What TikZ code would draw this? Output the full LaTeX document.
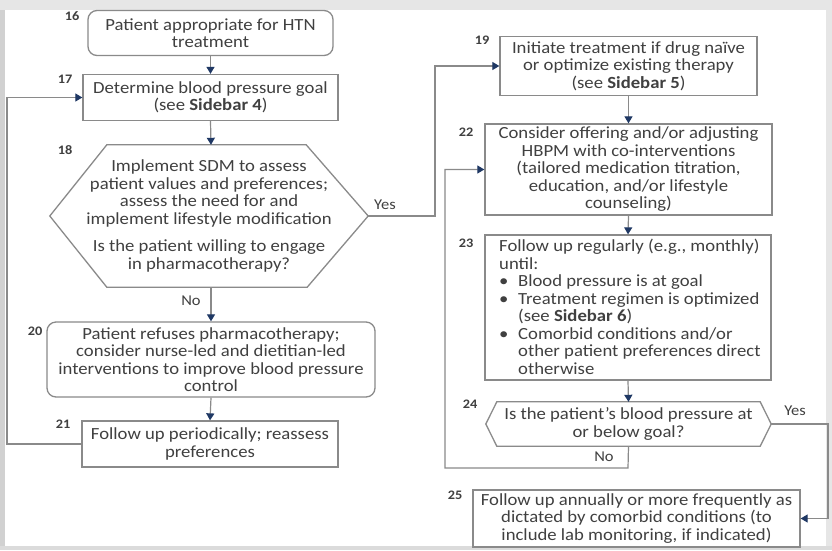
\documentclass[tikz,border=0pt]{standalone}
\usepackage{fontspec}
\setmainfont{Carlito}[FakeStretch=1.1]
\usetikzlibrary{arrows.meta,calc}
\definecolor{txt}{HTML}{404040}
\definecolor{boxc}{HTML}{8A8A8A}
\definecolor{navy}{HTML}{1F3864}
\definecolor{bgouter}{HTML}{E6E6E6}
\tikzset{
  every node/.style={text=txt, font=\fontsize{17}{17.5}\selectfont},
  boxn/.style={draw=boxc, line width=1.3pt, align=center, inner sep=0pt},
  rboxn/.style={boxn, rounded corners=9pt},
  hexq/.style={align=center, inner sep=0pt},
  hexline/.style={draw=boxc, line width=1.3pt, line join=miter},
  numlab/.style={font=\fontsize{13}{14}\selectfont\bfseries, text=txt},
  conn/.style={draw=boxc, line width=1.2pt, -{Triangle[color=navy,length=7pt,width=8pt]}},
  yn/.style={font=\fontsize{15}{16}\selectfont}
}
\begin{document}
\begin{tikzpicture}[x=1pt,y=-1pt]
\useasboundingbox (0,0) rectangle (832,550);
\fill[bgouter] (0,0) rectangle (832,550);
\fill[white] (5,10) rectangle (826,546);
\fill[black!18] (0,10) rectangle (5,550);
\fill[black!14] (0,546) rectangle (832,550);

% left column
\node[rboxn, minimum width=245pt, minimum height=45pt] (b16) at (210.5,33) {Patient appropriate for HTN\\treatment};
\node[boxn, minimum width=255pt, minimum height=46pt] (b17) at (210.5,97.5) {Determine blood pressure goal\\(see \textbf{Sidebar 4})};
\node[hexq, minimum width=318pt, minimum height=142pt] (q18) at (209,216) {Implement SDM to assess\\patient values and preferences;\\assess the need for and\\implement lifestyle modification\\[10pt]Is the patient willing to engage\\in pharmacotherapy?};
\draw[hexline] ($(q18.north west)+(57,0)$) -- ($(q18.north east)+(-62,0)$) -- (q18.east) -- ($(q18.south east)+(-61,0)$) -- ($(q18.south west)+(57,0)$) -- (q18.west) -- cycle;
\coordinate (q18n) at ($(q18.north)+(2,0)$);
\coordinate (q18s) at ($(q18.south)+(2,0)$);
\node[rboxn, minimum width=328pt, minimum height=75pt] (b20) at (211,359.5) {Patient refuses pharmacotherapy;\\consider nurse-led and dietitian-led\\interventions to improve blood pressure\\control};
\node[boxn, minimum width=256pt, minimum height=46pt] (b21) at (210,444) {Follow up periodically; reassess\\preferences};

% right column
\node[boxn, minimum width=257pt, minimum height=59pt] (b19) at (628.5,66) {Initiate treatment if drug naïve\\or optimize existing therapy\\(see \textbf{Sidebar 5})};
\node[boxn, minimum width=287pt, minimum height=91pt] (b22) at (628.5,169.5) {Consider offering and/or adjusting\\HBPM with co-interventions\\(tailored medication titration,\\education, and/or lifestyle\\counseling)};
\node[boxn, minimum width=286pt, minimum height=145pt] (b23) at (628,307.5) {};
\node[anchor=north west, align=left, inner sep=0pt] (t23) at (499,239) {Follow up regularly (e.g., monthly)\\until:\\\makebox[19pt][l]{•}Blood pressure is at goal\\\makebox[19pt][l]{•}Treatment regimen is optimized\\\hspace*{19pt}(see \textbf{Sidebar 6})\\\makebox[19pt][l]{•}Comorbid conditions and/or\\\hspace*{19pt}other patient preferences direct\\\hspace*{19pt}otherwise};
\node[hexq, minimum width=285pt, minimum height=44pt] (q24) at (628.5,424) {Is the patient’s blood pressure at\\or below goal?};
\draw[hexline] ($(q24.north west)+(11,0)$) -- ($(q24.north east)+(-11,0)$) -- (q24.east) -- ($(q24.south east)+(-11,0)$) -- ($(q24.south west)+(11,0)$) -- (q24.west) -- cycle;
\node[boxn, minimum width=327pt, minimum height=57pt] (b25) at (636.5,518.5) {Follow up annually or more frequently as\\dictated by comorbid conditions (to\\include lab monitoring, if indicated)};

% number labels
\node[numlab] (n16) at (72,16) {16};
\node[numlab] (n17) at (65,79) {17};
\node[numlab] (n18) at (65,150) {18};
\node[numlab] (n20) at (35,331) {20};
\node[numlab] (n21) at (63,424) {21};
\node[numlab] (n19) at (482,40) {19};
\node[numlab] (n22) at (466,132) {22};
\node[numlab] (n23) at (466,243) {23};
\node[numlab] (n24) at (470,404) {24};
\node[numlab] (n25) at (455,495) {25};

% connectors
\draw[conn] (b16.south) -- (b17.north);
\draw[conn] (b17.south) -- (q18n);
\draw[conn] (q18s) -- (b20.north -| q18s);
\node[yn] (no18) at (191,301) {No};
\draw[conn] (b20.south) -- (b21.north);
\draw[conn] (b21.west) -- (7,444) -- (7,97.5) -- (b17.west);
\draw[conn] (q18.east) -- (435,216) -- (435,66) -- (b19.west);
\node[yn] (yes18) at (385,205) {Yes};
\draw[conn] (b19.south) -- (b22.north);
\draw[conn] (b22.south) -- (b23.north);
\draw[conn] (b23.south) -- (q24.north);
\draw[conn] (q24.south) -- (628,468) -- (445,468) -- (445,169.5) -- (b22.west);
\node[yn] (no24) at (604,457) {No};
\draw[conn] (q24.east) -- (828,424) -- (828,518.5) -- (b25.east);
\node[yn] (yes24) at (795,411) {Yes};
\end{tikzpicture}
\end{document}
